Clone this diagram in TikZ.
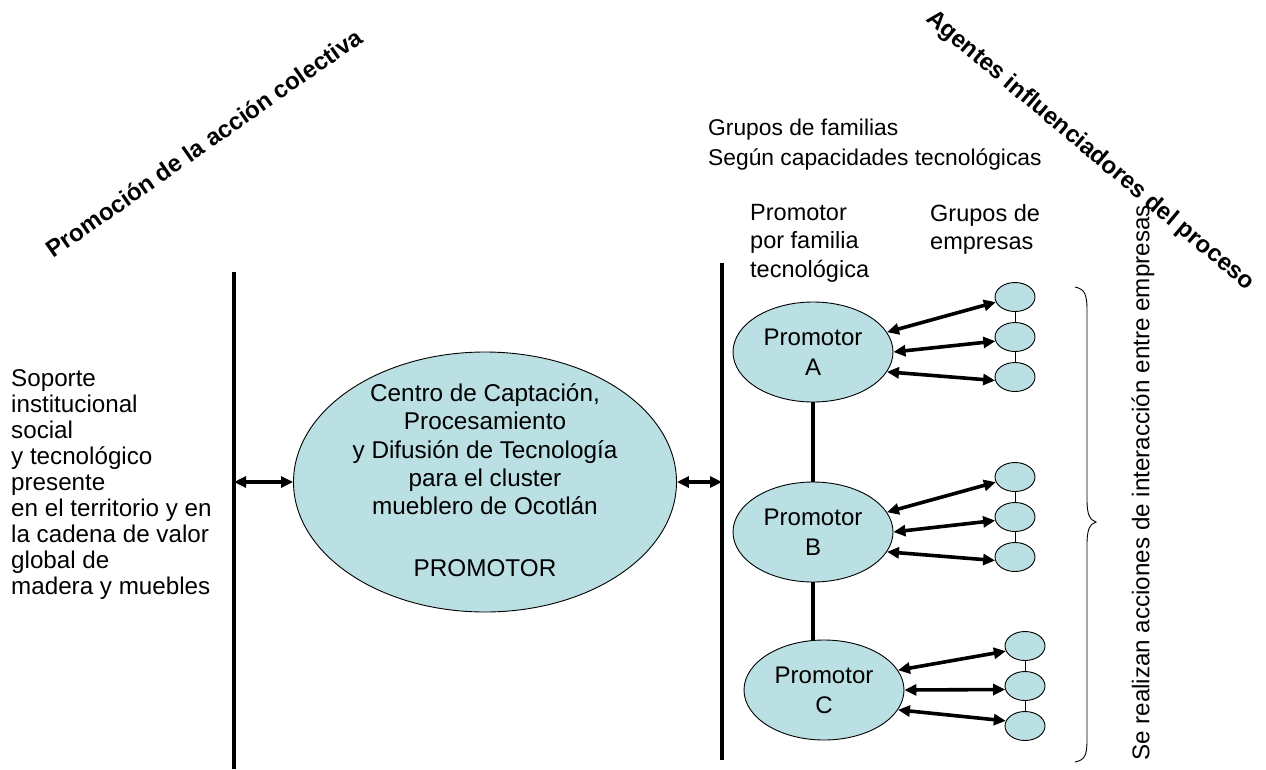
\documentclass[tikz,border=0pt]{standalone}
\usepackage{fontspec}
\setmainfont{Liberation Sans}
\usetikzlibrary{arrows.meta,shapes.geometric}
\definecolor{ellfill}{RGB}{186,224,227}
\begin{document}
\begin{tikzpicture}[x=1pt,y=-1pt,
  bigell/.style={ellipse,draw=black,line width=0.9pt,fill=ellfill,minimum width=383pt,minimum height=260pt,inner sep=0pt},
  promell/.style={ellipse,draw=black,line width=0.9pt,fill=ellfill,minimum width=160pt,minimum height=100pt,inner sep=0pt,align=center,font=\fontsize{24}{30}\selectfont},
  smallell/.style={ellipse,draw=black,line width=0.9pt,fill=ellfill,minimum width=40pt,minimum height=29pt,inner sep=0pt},
  txt/.style={inner sep=0pt,align=left,font=\fontsize{23}{29}\selectfont},
  rottxt/.style={inner sep=0pt,font=\bfseries\fontsize{24}{28}\selectfont},
  bar/.style={line width=3.8pt},
  link/.style={line width=3.2pt},
  thinline/.style={line width=0.9pt},
  dbl/.style={line width=3.6pt,{Triangle[length=12pt,width=11pt]}-{Triangle[length=12pt,width=11pt]}}
]
\useasboundingbox (0,0) rectangle (1266,769);
% vertical bars
\coordinate (Ltop) at (234,272);
\coordinate (Lbot) at (234,769);
\coordinate (Rtop) at (722,263);
\coordinate (Rbot) at (722,760);
\coordinate (Lmid) at (234,482);
\coordinate (Rmid) at (722,482);
\draw[bar] (Ltop) -- (Lbot);
\draw[bar] (Rtop) -- (Rbot);
% central ellipse
\node[bigell] (cc) at (485,482) {};
\node[txt,align=center,font=\fontsize{24.3}{28.4}\selectfont] (cctxt) at ([yshift=2pt]cc) {Centro de Captación,\\Procesamiento\\y Difusión de Tecnología\\para el cluster\\mueblero de Ocotlán\\[33pt]PROMOTOR};
\draw[dbl] (Lmid) -- (cc.west);
\draw[dbl] (cc.east) -- (Rmid);
% left text
\node[txt,anchor=north west,font=\fontsize{24.2}{26.1}\selectfont] (soporte) at (11,369) {Soporte\\institucional\\social\\y tecnológico\\presente\\en el territorio y en\\la cadena de valor\\global de\\madera y muebles};
% headers
\node[txt,anchor=north west,font=\fontsize{22.8}{30}\selectfont] (grupos) at (708,119) {Grupos de familias\\Según capacidades tecnológicas};
\node[txt,anchor=north west,font=\fontsize{23.5}{28.5}\selectfont] (ppf) at (750,204) {Promotor\\por familia\\tecnológica};
\node[txt,anchor=north west,font=\fontsize{23.5}{28.5}\selectfont] (gde) at (930,204) {Grupos de\\empresas};
% rotated titles
\node[rottxt,rotate=35] (prom) at (204,143) {Promoción de la acción colectiva};
\node[rottxt,rotate=-40] (agentes) at (1090,151) {Agentes influenciadores del proceso};
\node[inner sep=0pt,font=\fontsize{24.2}{28}\selectfont,rotate=90] (serealizan) at (1143,483) {Se realizan acciones de interacción entre empresas};
% promotors
\node[promell] (A) at (813,352) {Promotor\\A};
\node[promell] (B) at (813,532) {Promotor\\B};
\node[promell] (C) at (824,690) {Promotor\\C};
\draw[link] (A.south) -- (B.north);
\draw[link] (B.south) -- (B.south |- C.north);
% small ellipses
\node[smallell] (a1) at (1015,297) {};
\node[smallell] (a2) at (1015,337) {};
\node[smallell] (a3) at (1015,377) {};
\node[smallell] (b1) at (1015,477) {};
\node[smallell] (b2) at (1015,517) {};
\node[smallell] (b3) at (1015,557) {};
\node[smallell] (c1) at (1025,646) {};
\node[smallell] (c2) at (1025,686) {};
\node[smallell] (c3) at (1025,726) {};
\draw[thinline] (a1) -- (a2); \draw[thinline] (a2) -- (a3);
\draw[thinline] (b1) -- (b2); \draw[thinline] (b2) -- (b3);
\draw[thinline] (c1) -- (c2); \draw[thinline] (c2) -- (c3);
% arrows
\draw[dbl] (A.15) -- (a1.195);
\draw[dbl] (A.0) -- (a2.192);
\draw[dbl] (A.-15) -- (a3.190);
\draw[dbl] (B.15) -- (b1.195);
\draw[dbl] (B.0) -- (b2.190);
\draw[dbl] (B.-15) -- (b3.190);
\draw[dbl] (C.15) -- (c1.195);
\draw[dbl] (C.0) -- (c2.190);
\draw[dbl] (C.-15) -- (c3.165);
% brace
\draw[thinline] (1075,287) .. controls (1085,289) and (1087,295) .. (1087,310) -- (1087,500) .. controls (1087,515) and (1090,520) .. (1096,522) .. controls (1090,524) and (1087,529) .. (1087,544) -- (1087,740) .. controls (1087,755) and (1085,760) .. (1075,762);
\end{tikzpicture}
\end{document}
